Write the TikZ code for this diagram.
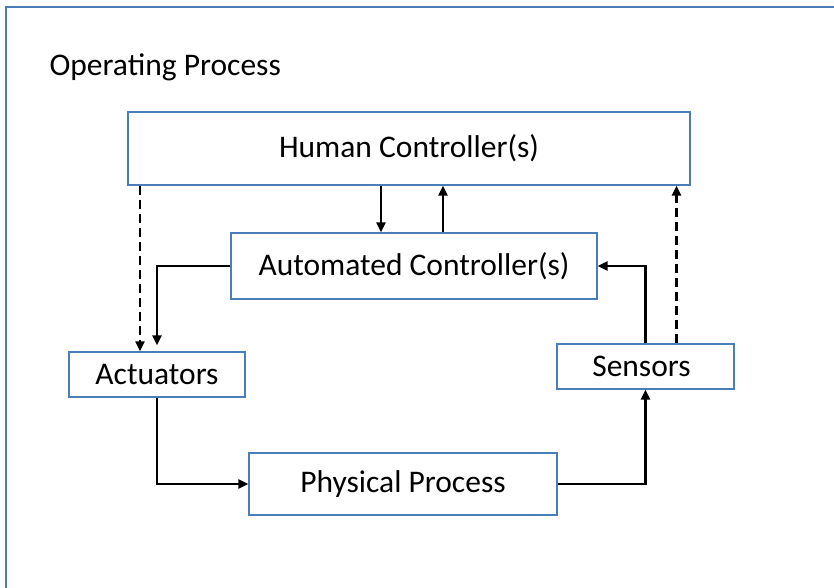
\documentclass[tikz,border=0pt]{standalone}
\usepackage{fontspec}
\setmainfont{Carlito}
\usetikzlibrary{arrows.meta}
\definecolor{boxblue}{HTML}{4A7EBB}
\begin{document}
\begin{tikzpicture}[x=1pt, y=-1pt, >={Triangle[length=10pt,width=9pt]},
  blk/.style={draw=boxblue, line width=1.4pt, fill=white, inner sep=0pt,
    font=\fontsize{31.5}{36}\selectfont},
  arr/.style={->, line width=2.5pt},
  dasharr/.style={->, line width=2.5pt, dash pattern=on 9pt off 5pt}]
  \useasboundingbox (0,0) rectangle (834,588);
  \draw[boxblue, line width=1.6pt] (840,7) -- (6,7) -- (6,594);
  \node[anchor=west, font=\fontsize{31.5}{36}\selectfont] (title) at (46,67) {Operating Process};
  \node[blk, minimum width=562pt, minimum height=73pt] (human) at (409,148.5) {Human Controller(s)};
  \node[blk, minimum width=366pt, minimum height=66pt] (auto) at (414,266) {Automated Controller(s)};
  \node[blk, minimum width=176pt, minimum height=45pt] (act) at (157,374.5) {Actuators};
  \node[blk, minimum width=177pt, minimum height=45pt] (sens) at (645.5,366.5) {\hspace*{-8pt}Sensors};
  \node[blk, minimum width=308pt, minimum height=62pt] (phys) at (403,484) {Physical Process};
  \coordinate (down) at ([xshift=-33]auto.north);
  \coordinate (up) at ([xshift=29]auto.north);
  \coordinate (hdash) at ([xshift=-17]act.north);
  \coordinate (sdash) at ([xshift=31]sens.north);
  \draw[arr] (down |- human.south) -- (down);
  \draw[arr] (up) -- (up |- human.south);
  \draw[dasharr] (hdash |- human.south) -- (hdash);
  \draw[arr, shorten >=6pt] (auto.west) -| (act.north);
  \draw[arr] (act.south) |- (phys.west);
  \draw[arr] (phys.east) -| (sens.south);
  \draw[arr] (sens.north) |- (auto.east);
  \draw[dasharr] (sdash) -- (sdash |- human.south);
\end{tikzpicture}
\end{document}
